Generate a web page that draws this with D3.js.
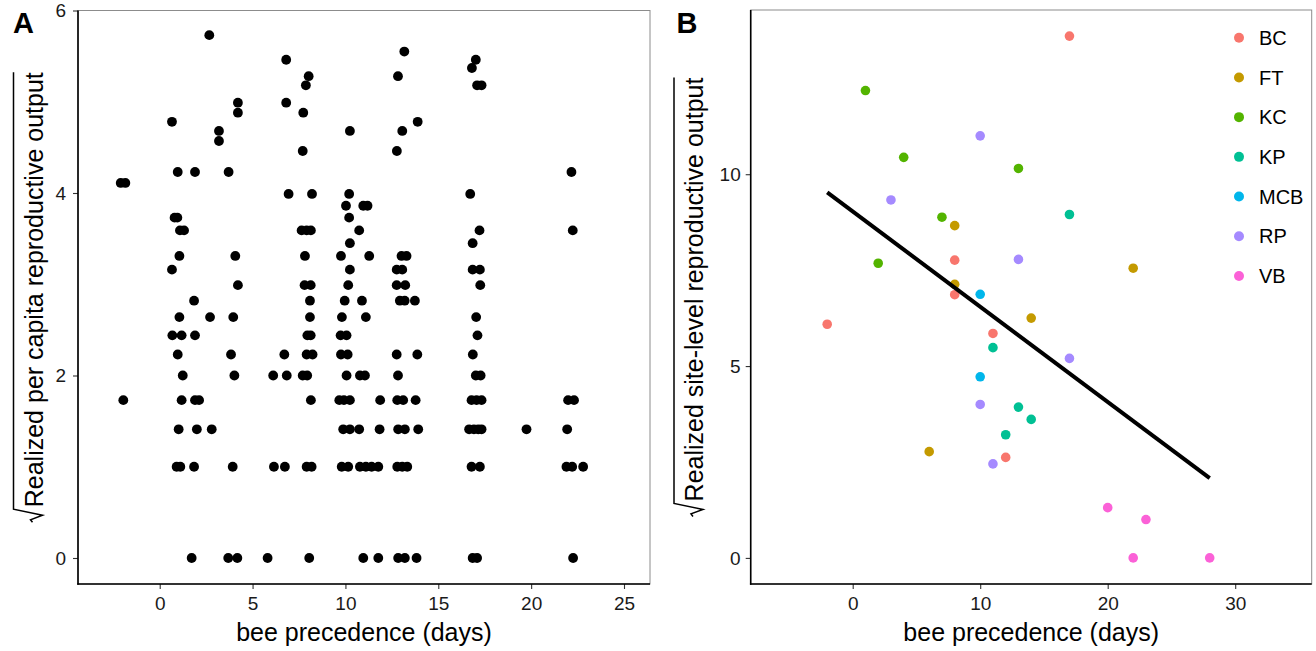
<!DOCTYPE html>
<html><head><meta charset="utf-8">
<script src="https://cdn.jsdelivr.net/npm/d3@7"></script>
<style>html,body{margin:0;padding:0;background:#fff;} svg{display:block;font-family:"Liberation Sans",Arial,Helvetica,sans-serif;}</style>
</head><body>
<svg id="c" width="1316" height="651"></svg>
<script>
// ---------- Panel A data (rows of equal output; x = bee precedence, jittered) ----------
const aRowY = [5.73,5.55,5.46,5.37,5.28,5.18,4.99,4.88,4.78,4.68,4.57,4.46,4.23,4.11,3.99,3.86,3.73,3.59,3.45,3.31,3.16,2.99,2.82,2.64,2.44,2.23,2.0,1.73,1.41,1.0,0];
const aRowX = [
 [2.67],[13.17],[6.81,17.02],[16.81],[8.02,12.83],[7.87,17.09,17.33],
 [4.21,6.81],[4.21,7.73],[0.66,13.89],[3.19,10.24,13.06],[3.19],[7.7,12.77],
 [0.97,1.9,3.71,22.17],[-2.1,-1.85],[6.94,8.2,10.2,16.72],[10.03,10.96,11.19],
 [0.8,0.95,10.2],[1.09,1.31,7.64,7.91,8.14,10.74,17.22,22.24],[10.24,16.85],
 [1.06,4.07,7.82,9.76,11.28,13.02,13.29],[0.66,10.24,12.76,13.06,16.85,17.24],
 [4.21,7.8,8.13,10.15,12.76,13.22,17.26],[1.85,8.09,9.96,10.89,12.93,13.19,13.74],
 [1.06,2.71,3.96,8.09,9.81,11.1,17.04],[0.68,1.18,1.9,7.95,8.13,9.74,10.06,17.11],
 [0.97,3.84,6.71,7.91,8.23,9.76,10.12,12.76,13.87,16.86],
 [1.24,4.02,6.11,6.84,7.7,7.94,10.06,10.78,11.05,12.83,17.02,17.28],
 [-1.96,1.18,1.9,2.12,8.14,9.67,9.92,10.24,11.87,12.79,13.11,13.78,16.79,17.06,17.33,21.99,22.31],
 [1.02,2.0,2.8,9.88,10.24,10.74,11.84,12.84,13.2,13.92,16.66,16.92,17.15,17.33,19.75,21.94],
 [0.91,1.11,1.85,3.93,6.15,6.74,7.91,8.18,9.8,10.15,10.78,11.1,11.41,11.77,12.79,13.06,13.33,16.79,17.24,21.9,22.21,22.8],
 [1.72,3.69,4.18,5.81,8.05,10.96,11.77,12.84,13.2,13.83,16.85,17.09,22.26]
];
const aXTicks = [0,5,10,15,20,25];
const aYTicks = [0,2,4,6];

// ---------- Panel B data ----------
const sites  = ["BC","FT","KC","KP","MCB","RP","VB"];
const colors = ["#F8766D","#C49A00","#53B400","#00C094","#00B6EB","#A58AFF","#FB61D7"];
const bSite  = ["BC","BC","BC","BC","BC","BC","FT","FT","FT","FT","FT","KC","KC","KC","KC","KC","KP","KP","KP","KP","KP","MCB","MCB","RP","RP","RP","RP","RP","RP","VB","VB","VB","VB"];
const bX     = [17,8,8,-2,11,12, 8,8,22,14,6, 1,4,7,2,13, 17,11,13,14,12, 10,10, 10,3,13,17,10,11, 20,23,22,28];
const bY     = [13.6,7.76,6.86,6.09,5.85,2.62, 8.66,7.13,7.55,6.25,2.77, 12.18,10.44,8.88,7.68,10.15, 8.95,5.48,3.93,3.61,3.21, 6.87,4.72, 11.0,9.33,7.78,5.2,4.0,2.45, 1.31,1.0,0,0];
const fitIntercept = 9.03, fitSlope = -0.2483;
const bXTicks = [0,10,20,30];
const bYTicks = [0,5,10];

const svg = d3.select("#c");
const TICK_FS = 19, TITLE_FS = 25;

function panel(o){
  const g = svg.append("g");
  // border
  g.append("rect").attr("x",o.x0).attr("y",o.y1).attr("width",o.x1-o.x0).attr("height",o.y0-o.y1)
    .attr("fill","none").attr("stroke","#8c8c8c").attr("stroke-width",1);
  // axes
  const ax = d3.axisBottom(o.xs).tickValues(o.xt).tickSize(5).tickPadding(7).tickFormat(d3.format("d"));
  const ay = d3.axisLeft(o.ys).tickValues(o.yt).tickSize(5).tickPadding(o.ypad).tickFormat(d3.format("d"));
  const gx = g.append("g").attr("transform",`translate(0,${o.y0})`).call(ax);
  const gy = g.append("g").attr("transform",`translate(${o.x0},0)`).call(ay);
  [gx,gy].forEach(a=>{
    a.select(".domain").remove();
    a.selectAll(".tick line").attr("stroke","#333").attr("stroke-width",1.1);
    a.selectAll(".tick text").attr("fill","#1a1a1a").style("font-size",TICK_FS+"px");
  });
  gx.selectAll(".tick text").attr("dy","0.74em");
  g.append("line").attr("x1",o.x0).attr("x2",o.x0).attr("y1",o.y1).attr("y2",o.y0+0.75).attr("stroke","#000").attr("stroke-width",1.6);
  g.append("line").attr("x1",o.x0-0.75).attr("x2",o.x1).attr("y1",o.y0).attr("y2",o.y0).attr("stroke","#000").attr("stroke-width",1.6);
  // x title
  g.append("text").attr("x",(o.x0+o.x1)/2).attr("y",641).attr("text-anchor","middle")
    .style("font-size",TITLE_FS+"px").attr("fill","#000").text("bee precedence (days)");
  // y title with radical
  const t = g.append("g").attr("transform",`translate(${o.tx},${(o.y0+o.y1)/2}) rotate(-90)`);
  const txt = t.append("text").style("font-size",TITLE_FS+"px").attr("fill","#000").text(o.ytitle);
  const L = txt.node().getComputedTextLength();
  const radW = 15, Wt = radW + L, u0 = -Wt/2, ov = -29;
  txt.attr("x", u0 + radW).attr("y",0);
  t.append("path").attr("d",`M${u0},${-10} L${u0+2.5},${-12} L${u0+7},${0} L${u0+13},${ov} L${Wt/2},${ov}`)
    .attr("fill","none").attr("stroke","#000").attr("stroke-width",1.5).attr("stroke-linejoin","miter");
  // panel letter
  g.append("text").attr("x",o.lx).attr("y",33).style("font-size","29px").style("font-weight","bold").attr("fill","#000").text(o.letter);
  return g;
}

// ---------- Panel A ----------
const xA = d3.scaleLinear().domain([-4.4,26.4]).range([78,650]);
const yA = d3.scaleLinear().domain([-0.285,6.0]).range([584,10.5]);
panel({x0:78,x1:650,y0:584,y1:10.5,xs:xA,ys:yA,xt:aXTicks,yt:aYTicks,ypad:7,tx:42.5,
  ytitle:"Realized per capita reproductive output",letter:"A",lx:13});
const aPts = aRowY.flatMap((y,i)=>aRowX[i].map(x=>({x,y})));
svg.append("g").selectAll("circle").data(aPts).join("circle")
  .attr("cx",d=>xA(d.x)).attr("cy",d=>yA(d.y)).attr("r",4.9).attr("fill","#000");

// ---------- Panel B ----------
const xB = d3.scaleLinear().domain([-8,36]).range([750.7,1311.7]);
const yB = d3.scaleLinear().domain([-0.68,14.28]).range([584,10]);
panel({x0:750.7,x1:1311.7,y0:584,y1:10,xs:xB,ys:yB,xt:bXTicks,yt:bYTicks,ypad:5,tx:703,
  ytitle:"Realized site-level reproductive output",letter:"B",lx:676.5});
const color = d3.scaleOrdinal().domain(sites).range(colors);
const bPts = bX.map((x,i)=>({x,y:bY[i],s:bSite[i]}));
svg.append("g").selectAll("circle").data(bPts).join("circle")
  .attr("cx",d=>xB(d.x)).attr("cy",d=>yB(d.y)).attr("r",4.8).attr("fill",d=>color(d.s));
const ext = d3.extent(bX);
svg.append("line").attr("x1",xB(ext[0])).attr("y1",yB(fitIntercept+fitSlope*ext[0]))
  .attr("x2",xB(ext[1])).attr("y2",yB(fitIntercept+fitSlope*ext[1]))
  .attr("stroke","#000").attr("stroke-width",4);

// legend
const lg = svg.append("g");
const ly = d3.scalePoint().domain(sites).range([37.7,276]);
sites.forEach(s=>{
  lg.append("circle").attr("cx",1239).attr("cy",ly(s)).attr("r",5).attr("fill",color(s));
  lg.append("text").attr("x",1259).attr("y",ly(s)).attr("dy","0.36em").style("font-size","20px").attr("fill","#000").text(s);
});
</script>
</body></html>
